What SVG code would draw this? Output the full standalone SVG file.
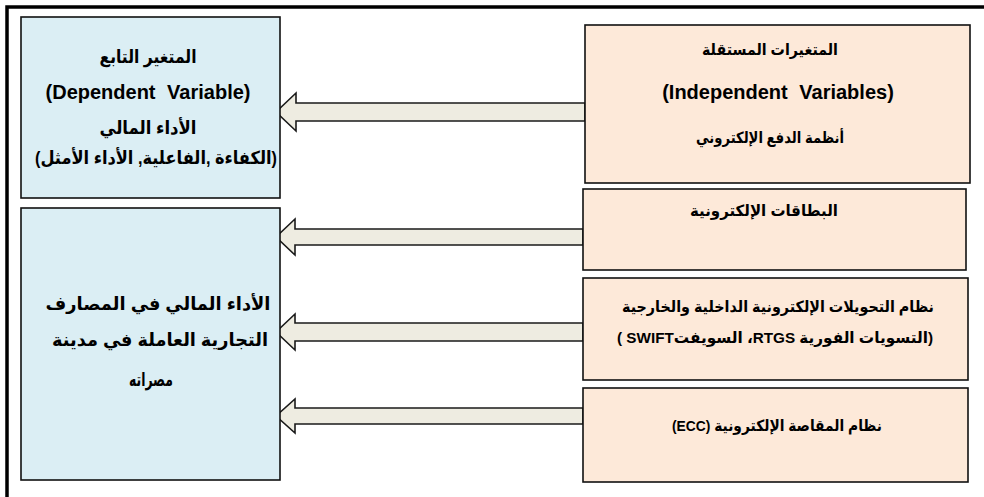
<svg xmlns="http://www.w3.org/2000/svg" width="984" height="497" viewBox="0 0 984 497">
<style>
.t{font-family:"Liberation Sans","DejaVu Sans",sans-serif;font-weight:bold;font-size:18px;fill:#000;text-anchor:middle}
.s{font-size:15.5px}
.en{font-size:20px;word-spacing:6px}
.dv{fill:#DBEEF4;stroke:#111;stroke-width:1.6}
.iv{fill:#FDE9D9;stroke:#111;stroke-width:1.6}
.ar{fill:#EEECE1;stroke:#1a1a1a;stroke-width:1.6;stroke-linejoin:miter}
</style>
<rect x="0" y="0" width="984" height="497" fill="#fff"/>
<rect x="7" y="7" width="1000" height="520" fill="#fff" stroke="#000" stroke-width="3.5"/>
<g id="connectors">
<polygon class="ar" points="585,103 296,103 296,93 276,112 296,131 296,121 585,121"/>
<polygon class="ar" points="583,229 295,229 295,219 276,237 295,255 295,245 583,245"/>
<polygon class="ar" points="583,323 295,323 295,314 276,332 295,350 295,341 583,341"/>
<polygon class="ar" points="583,408 295,408 295,399 276,416 295,433 295,424 583,424"/>
</g>
<g id="dependent">
<rect class="dv" x="21" y="17" width="259" height="181"/>
<text class="t" x="148" y="63" direction="rtl" textLength="97" lengthAdjust="spacingAndGlyphs">المتغير التابع</text>
<text class="t en" x="148" y="99">(Dependent Variable)</text>
<text class="t" x="148" y="134" direction="rtl" textLength="97" lengthAdjust="spacingAndGlyphs">الأداء المالي</text>
<text class="t" x="156" y="164" direction="rtl" textLength="242" lengthAdjust="spacingAndGlyphs">(الكفاءة ,الفاعلية, الأداء الأمثل)</text>
</g>
<g id="performance">
<rect class="dv" x="21" y="208" width="259" height="272"/>
<text class="t" x="158" y="310" direction="rtl" textLength="225" lengthAdjust="spacingAndGlyphs">الأداء المالي في المصارف</text>
<text class="t" x="160" y="346" direction="rtl" textLength="216" lengthAdjust="spacingAndGlyphs">التجارية العاملة في مدينة</text>
<text class="t" x="151" y="386" direction="rtl" style="font-size:19px" textLength="44" lengthAdjust="spacingAndGlyphs">مصراته</text>
</g>
<g id="independent">
<rect class="iv" x="585" y="25" width="385" height="158"/>
<text class="t s" x="770" y="55" direction="rtl" textLength="136" lengthAdjust="spacingAndGlyphs">المتغيرات المستقلة</text>
<text class="t en" x="778" y="99">(Independent Variables)</text>
<text class="t s" x="770" y="143" direction="rtl" textLength="148" lengthAdjust="spacingAndGlyphs">أنظمة الدفع الإلكتروني</text>
</g>
<g id="cards">
<rect class="iv" x="583" y="189" width="383" height="81"/>
<text class="t s" x="764" y="216" direction="rtl" textLength="148" lengthAdjust="spacingAndGlyphs">البطاقات الإلكترونية</text>
</g>
<g id="transfers">
<rect class="iv" x="583" y="278" width="385" height="102"/>
<text class="t s" x="778" y="312" direction="rtl" textLength="312" lengthAdjust="spacingAndGlyphs">نظام التحويلات الإلكترونية الداخلية والخارجية</text>
<text class="t s" x="775" y="343" direction="rtl" textLength="316" lengthAdjust="spacingAndGlyphs">(التسويات الفورية RTGS، السويفتSWIFT )</text>
</g>
<g id="clearing">
<rect class="iv" x="583" y="388" width="385" height="94"/>
<text class="t s" x="777" y="431" direction="rtl" textLength="210" lengthAdjust="spacingAndGlyphs">نظام المقاصة الإلكترونية (ECC)</text>
</g>
</svg>
